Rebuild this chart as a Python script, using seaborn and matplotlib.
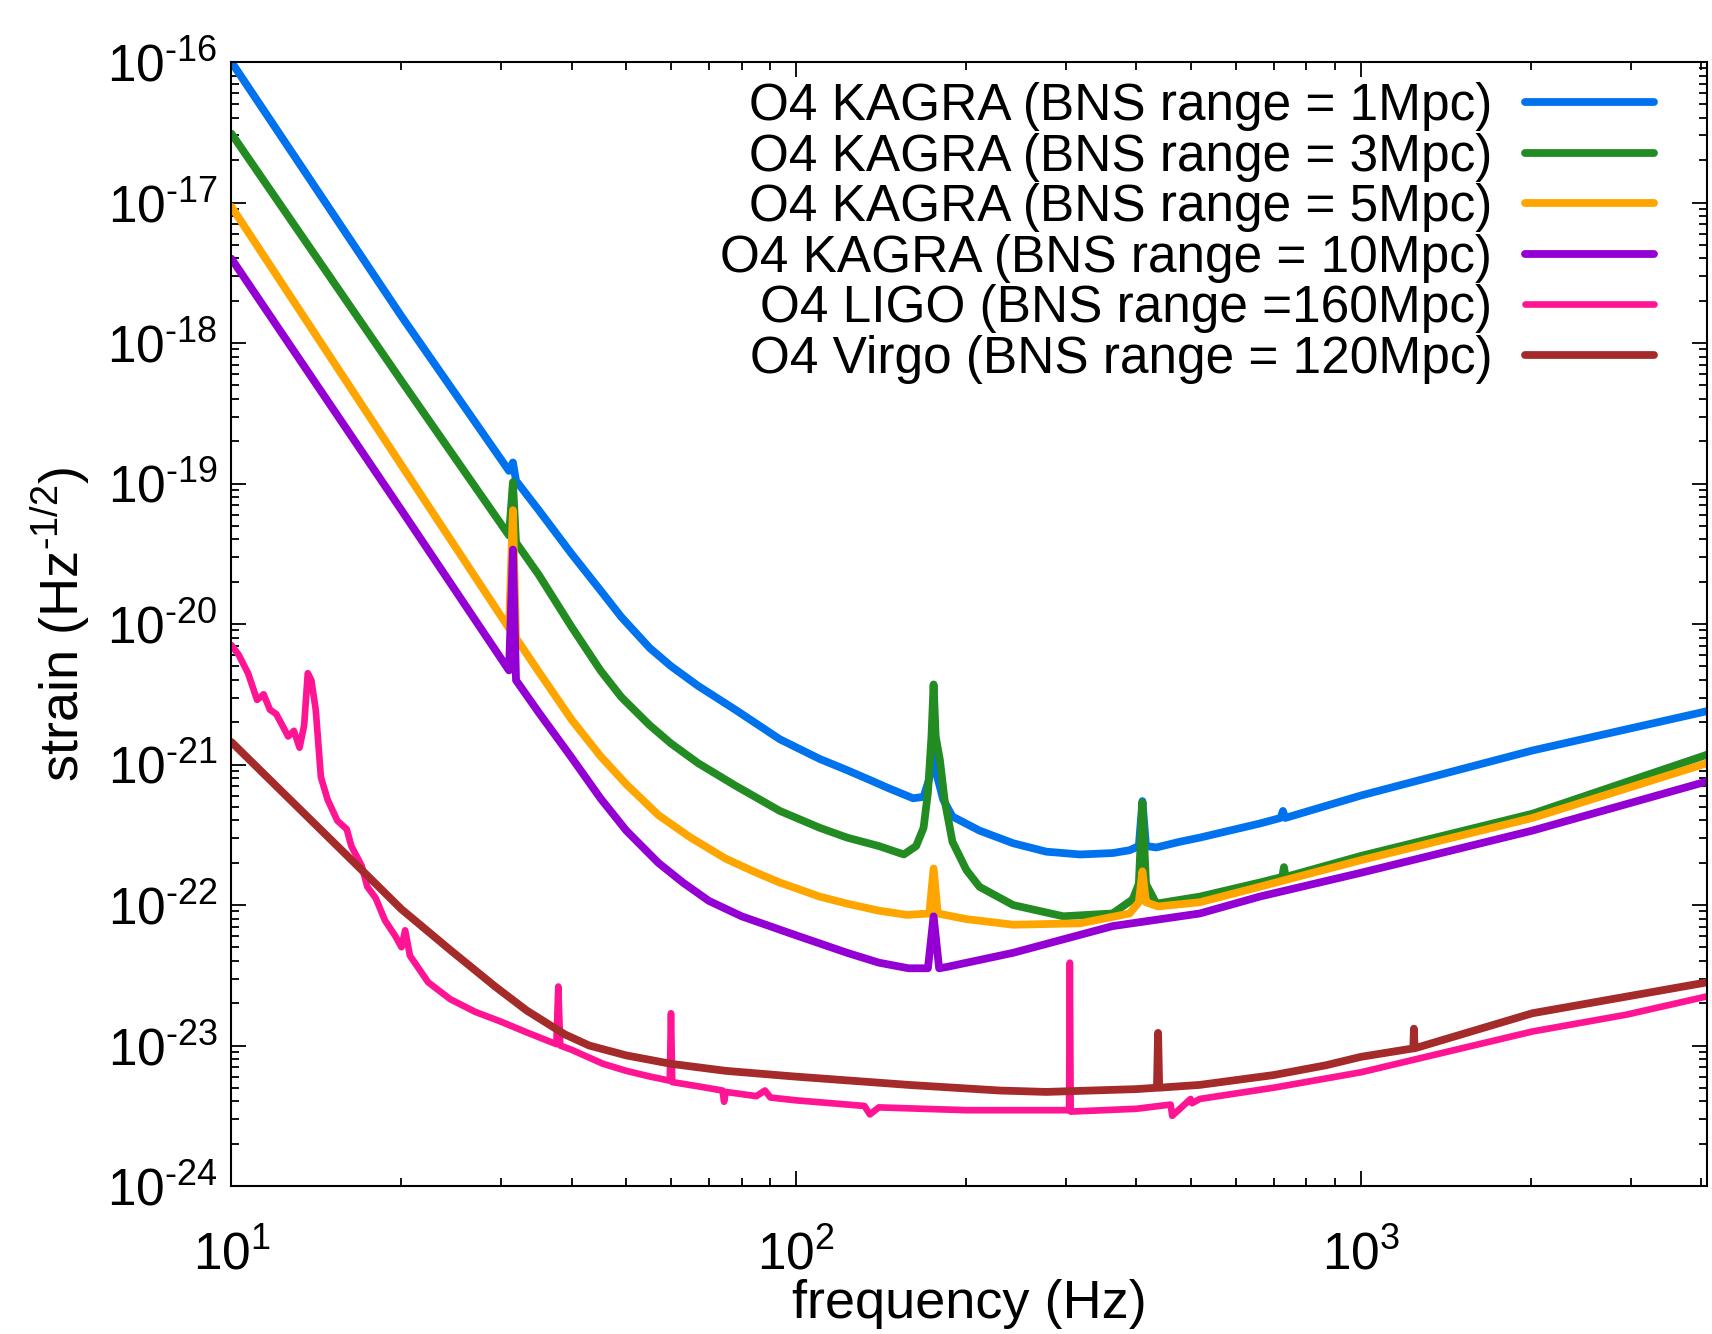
import numpy as np
import pandas as pd
import matplotlib
matplotlib.use('Agg')
import matplotlib.pyplot as plt
import seaborn as sns
from matplotlib.ticker import LogLocator, FixedLocator, NullFormatter, FuncFormatter

# Noise curves: frequency (Hz) and log10(strain)
kagra1_f = [10, 20, 31.0, 31.5, 31.9, 35, 40, 45, 49, 55, 60, 67, 78, 93.5, 110, 123, 135, 146,
            161, 168, 172, 175, 178, 182, 189, 211, 242, 277, 318, 363, 389, 404, 410, 416,
            434, 477, 518, 661, 720, 727, 734, 1000, 2010, 4096]
kagra1_logh = [-16.0, -17.81, -18.91, -18.85, -18.98, -19.19, -19.50, -19.76, -19.95, -20.17,
               -20.30, -20.44, -20.61, -20.82, -20.96, -21.04, -21.11, -21.17, -21.24, -21.23,
               -21.1, -20.9, -21.1, -21.25, -21.37, -21.47, -21.56, -21.62, -21.64, -21.63,
               -21.61, -21.58, -21.26, -21.58, -21.59, -21.55, -21.52, -21.42, -21.38, -21.33,
               -21.38, -21.22, -20.90, -20.62]

kagra3_f = [10, 20, 31.0, 31.5, 31.9, 35, 40, 45, 49, 55, 60, 67, 78, 93.5, 110, 123, 140, 155,
            163, 168, 171, 173.5, 175, 176.5, 179.6, 183, 189, 200, 211, 242, 297, 363, 394,
            404, 410, 416, 434, 518, 661, 725, 730, 735, 1000, 2010, 4096]
kagra3_logh = [-16.51, -18.27, -19.37, -18.99, -19.42, -19.65, -20.02, -20.33, -20.52, -20.72,
               -20.85, -20.99, -21.15, -21.33, -21.45, -21.52, -21.58, -21.64, -21.58, -21.45,
               -21.2, -20.8, -20.43, -20.8, -20.97, -21.25, -21.55, -21.75, -21.87, -22.0,
               -22.08, -22.06, -21.96, -21.85, -21.27, -21.85, -21.99, -21.94, -21.84, -21.80,
               -21.73, -21.80, -21.65, -21.35, -20.93]

kagra5_f = [10, 20, 31.0, 31.5, 31.9, 35, 40, 45, 50, 57, 65, 75, 85, 93.5, 110, 123, 140, 157,
            172, 175, 178, 200, 242, 318, 389, 404, 410, 416, 437, 518, 661, 1000, 2010, 4096]
kagra5_logh = [-17.03, -18.87, -20.03, -19.19, -20.10, -20.34, -20.68, -20.94, -21.14, -21.36,
               -21.52, -21.67, -21.77, -21.84, -21.94, -21.99, -22.04, -22.07, -22.06, -21.74,
               -22.06, -22.10, -22.14, -22.13, -22.06, -21.98, -21.76, -21.98, -22.01, -21.98,
               -21.87, -21.68, -21.38, -20.99]

kagra10_f = [10, 20, 31.0, 31.5, 31.9, 35, 40, 45, 50, 57, 63, 70, 80, 99, 123, 140, 158, 171,
             175, 179, 185, 242, 363, 518, 661, 1000, 2010, 4096]
kagra10_logh = [-17.40, -19.19, -20.33, -19.47, -20.40, -20.63, -20.95, -21.24, -21.47, -21.70,
                -21.84, -21.97, -22.08, -22.21, -22.34, -22.41, -22.45, -22.45, -22.08, -22.45,
                -22.44, -22.34, -22.15, -22.06, -21.94, -21.77, -21.47, -21.12]

ligo_f = [10.0, 10.3, 10.7, 11.1, 11.4, 11.7, 12.0, 12.3, 12.6, 12.9, 13.2, 13.45, 13.65,
          13.85, 14.1, 14.4, 14.8, 15.4, 16.0, 16.3, 17.0, 17.4, 18.0, 18.7, 19.5, 20.0, 20.3,
          20.7, 22.3, 24.4, 27.0, 30.0, 33.5, 37.6, 37.9, 38.2, 40.0, 45.5, 50.0, 55.0, 59.7,
          60.0, 60.3, 67.0, 74.0, 74.5, 75.0, 85.0, 88.0, 90.0, 100.0, 115.0, 132.0, 135.0,
          140.0, 200.0, 277.0, 304.0, 305.0, 306.0, 400.0, 460.0, 463.0, 499.0, 502.0, 518.0,
          700.0, 1000.0, 2010.0, 2950.0, 4096.0]
ligo_logh = [-20.15, -20.22, -20.35, -20.54, -20.50, -20.61, -20.64, -20.72, -20.80, -20.76,
             -20.88, -20.72, -20.35, -20.40, -20.61, -21.09, -21.25, -21.40, -21.46, -21.58,
             -21.72, -21.87, -21.95, -22.11, -22.22, -22.30, -22.18, -22.36, -22.55, -22.67,
             -22.76, -22.83, -22.91, -22.99, -22.58, -23.0, -23.03, -23.13, -23.18, -23.22,
             -23.25, -22.77, -23.26, -23.29, -23.32, -23.40, -23.33, -23.36, -23.32, -23.37,
             -23.39, -23.41, -23.43, -23.49, -23.44, -23.46, -23.46, -23.46, -22.41, -23.47,
             -23.45, -23.42, -23.50, -23.38, -23.41, -23.38, -23.30, -23.19, -22.90, -22.78,
             -22.65]

virgo_f = [10, 17, 20, 24.4, 29.3, 33.3, 38.9, 43, 50, 60, 75, 99, 158, 229, 277, 400, 435, 437,
           439, 518, 700, 867, 1000, 1237, 1240, 1243, 2010, 4096]
virgo_logh = [-20.84, -21.75, -22.03, -22.32, -22.58, -22.75, -22.92, -23.00, -23.07, -23.13,
              -23.18, -23.22, -23.28, -23.32, -23.33, -23.31, -23.30, -22.91, -23.30, -23.28,
              -23.21, -23.14, -23.08, -23.02, -22.88, -23.02, -22.77, -22.55]

LABELS = ["O4 KAGRA (BNS range = 1Mpc)", "O4 KAGRA (BNS range = 3Mpc)",
          "O4 KAGRA (BNS range = 5Mpc)", "O4 KAGRA (BNS range = 10Mpc)",
          "O4 LIGO (BNS range =160Mpc)", "O4 Virgo (BNS range = 120Mpc)"]
COLORS = ["#0072ee", "#228b22", "#ffa500", "#9400d3", "#ff1493", "#a52a2a"]
Y_DECADES = [1e-24, 1e-23, 1e-22, 1e-21, 1e-20, 1e-19, 1e-18, 1e-17, 1e-16]
X_DECADES = [10, 100, 1000]


def decade_label(value, pos):
    """10^n with a plain hyphen for the minus sign, like the gnuplot original"""
    n = int(round(np.log10(value)))
    if n < 0:
        return r'$10^{\text{-}%d}$' % (-n)
    return r'$10^{%d}$' % n


def main():
    curves = [(kagra1_f, kagra1_logh), (kagra3_f, kagra3_logh), (kagra5_f, kagra5_logh),
              (kagra10_f, kagra10_logh), (ligo_f, ligo_logh), (virgo_f, virgo_logh)]
    frames = []
    for label, (f, logh) in zip(LABELS, curves):
        frames.append(pd.DataFrame({'frequency': f,
                                    'strain': 10.0 ** np.asarray(logh),
                                    'curve': label}))
    df = pd.concat(frames, ignore_index=True)

    sns.set_theme(style='ticks')
    plt.rcParams['font.family'] = ['Liberation Sans', 'DejaVu Sans']
    plt.rcParams['mathtext.fontset'] = 'custom'
    plt.rcParams['mathtext.rm'] = 'Liberation Sans'
    plt.rcParams['mathtext.it'] = 'Liberation Sans:italic'
    plt.rcParams['mathtext.bf'] = 'Liberation Sans:bold'
    for key in ('text.color', 'axes.labelcolor', 'xtick.color', 'ytick.color', 'axes.edgecolor'):
        plt.rcParams[key] = 'black'

    fig = plt.figure(figsize=(17.12, 13.34), dpi=100)
    ax = fig.add_axes([0.1352, 0.1109, 0.8619, 0.8426])

    sns.lineplot(data=df, x='frequency', y='strain', hue='curve', hue_order=LABELS,
                 palette=dict(zip(LABELS, COLORS)), sort=False, estimator=None,
                 linewidth=5.6, legend=False, ax=ax)
    ax.get_lines()[4].set_linewidth(4.8)

    ax.set_xscale('log')
    ax.set_yscale('log')
    ax.set_xlim(10, 4096)
    ax.set_ylim(1e-24, 1e-16)

    ax.xaxis.set_major_locator(FixedLocator(X_DECADES))
    ax.yaxis.set_major_locator(FixedLocator(Y_DECADES))
    ax.xaxis.set_major_formatter(FuncFormatter(decade_label))
    ax.yaxis.set_major_formatter(FuncFormatter(decade_label))
    for axis in (ax.xaxis, ax.yaxis):
        axis.set_minor_locator(LogLocator(base=10, subs=np.arange(2, 10), numticks=100))
        axis.set_minor_formatter(NullFormatter())

    ax.tick_params(which='both', direction='in', top=True, right=True, width=1.3)
    ax.tick_params(which='major', length=10.5, labelsize=37)
    ax.tick_params(which='minor', length=5.5)
    ax.tick_params(axis='x', which='major', pad=32)
    ax.tick_params(axis='y', which='major', pad=10)
    for sp in ax.spines.values():
        sp.set_linewidth(1.5)

    ax.set_xlabel('frequency (Hz)', fontsize=39)
    ax.set_ylabel(r'strain (Hz$^{\text{-}1/2}$)', fontsize=39)
    ax.xaxis.set_label_coords(0.5, -0.083)
    ax.yaxis.set_label_coords(-0.094, 0.5)

    leg = ax.legend(ax.get_lines()[:6], LABELS, loc='upper right',
                    bbox_to_anchor=(0.964, 0.982), borderaxespad=0, borderpad=0,
                    frameon=False, markerfirst=False, fontsize=37,
                    handlelength=2.5, handletextpad=0.65, labelspacing=0.03)
    # right-justify the labels like a gnuplot key
    for col in leg._legend_handle_box.get_children():
        col.align = 'right'

    fig.savefig('out.png', dpi=100)


if __name__ == "__main__":
    main()
